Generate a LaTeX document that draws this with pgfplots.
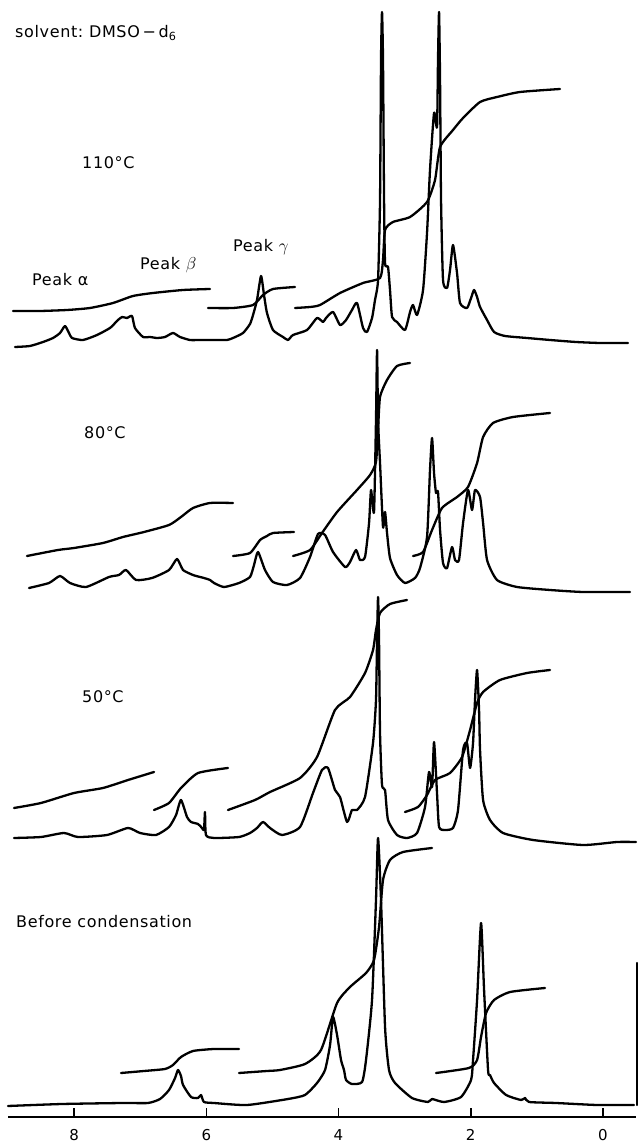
\documentclass[border=0pt]{standalone}
\usepackage{fontspec}
\setmainfont{DejaVu Sans}[LetterSpace=4]
\usepackage{pgfplots}
\pgfplotsset{compat=1.18}
\begin{document}
\begin{tikzpicture}
\begin{axis}[
  name=ax,
  scale only axis, width=628pt, height=1117pt,
  xmin=-0.5, xmax=9.0, x dir=reverse,
  ymin=0, ymax=1117,
  axis x line*=bottom, axis y line=none,
  axis line style={-, line width=2.2pt},
  xtick={0,2,4,6,8}, ytick=\empty,
  tick align=inside, major tick length=9pt,
  xtick style={line width=1.6pt, black},
  xticklabel style={font=\fontsize{15}{15}\selectfont, yshift=-9pt},
  /pgf/number format/assume math mode=true,
  clip=false,
  cycle list={{black, solid, mark=none}},
  every axis plot post/.append style={black, solid, line width=2.3pt, line join=round, line cap=round, mark=none, smooth, tension=0.35},
]
% ---------------- 110 C ----------------
\addplot coordinates {(8.894,770)(8.667,771)(8.470,775)(8.319,779)(8.213,784)(8.138,791)(8.077,784)(8.032,779)(7.865,777)(7.653,782)(7.457,789)(7.366,795)(7.336,797)(7.275,800)(7.200,799)(7.124,801)(7.079,789)(6.957,780)(6.852,780)(6.746,779)(6.625,780)(6.504,784)(6.398,780)(6.247,777)(6.095,777)(5.868,777)(5.687,777)(5.596,779)(5.445,784)(5.339,793)(5.293,802)(5.233,817)(5.172,841)(5.127,822)(5.082,804)(4.991,787)(4.840,780)(4.764,777)(4.688,782)(4.476,787)(4.325,799)(4.234,795)(4.189,799)(4.083,805)(3.977,792)(3.886,797)(3.796,807)(3.720,814)(3.629,789)(3.569,785)(3.493,799)(3.448,817)(3.402,837)(3.372,917)(3.357,1057)(3.342,1105)(3.327,1057)(3.311,917)(3.296,854)(3.251,850)(3.221,827)(3.190,800)(3.115,795)(2.994,787)(2.918,805)(2.873,812)(2.812,802)(2.721,827)(2.661,884)(2.616,947)(2.555,1004)(2.510,990)(2.495,1057)(2.479,1105)(2.464,1037)(2.449,917)(2.419,837)(2.358,829)(2.313,847)(2.268,872)(2.207,844)(2.162,814)(2.056,809)(1.995,819)(1.950,827)(1.904,820)(1.859,810)(1.753,797)(1.647,785)(1.481,781)(1.148,779)(0.800,777)(0.407,775)(0.044,774)(-0.380,774)};
\addplot coordinates {(8.924,806)(8.516,806)(8.107,807)(7.759,809)(7.411,814)(7.109,821)(6.806,824)(6.352,827)(5.944,828)};
\addplot coordinates {(5.974,809)(5.596,809)(5.293,812)(5.142,822)(4.991,828)(4.658,830)};
\addplot coordinates {(4.658,809)(4.431,810)(4.280,812)(3.977,824)(3.629,834)(3.372,839)(3.327,857)(3.296,887)(3.176,895)(2.918,900)(2.661,915)(2.540,937)(2.464,970)(2.268,987)(2.116,999)(1.859,1015)(1.602,1020)(1.254,1025)(0.649,1028)};
% ---------------- 80 C ----------------
\addplot coordinates {(8.682,529)(8.380,534)(8.213,541)(8.062,534)(7.820,530)(7.472,540)(7.321,542)(7.215,547)(7.063,537)(6.821,539)(6.564,547)(6.443,558)(6.352,547)(6.201,542)(6.095,540)(6.035,539)(5.944,537)(5.883,534)(5.732,530)(5.505,534)(5.339,540)(5.278,552)(5.218,565)(5.112,547)(4.991,535)(4.779,532)(4.582,539)(4.431,560)(4.310,583)(4.204,582)(4.083,565)(3.901,550)(3.826,555)(3.735,567)(3.675,557)(3.599,560)(3.538,594)(3.508,627)(3.463,605)(3.433,697)(3.417,767)(3.402,697)(3.372,654)(3.327,590)(3.296,605)(3.266,584)(3.221,559)(3.115,542)(2.994,534)(2.843,539)(2.767,549)(2.661,580)(2.616,647)(2.585,679)(2.555,644)(2.525,624)(2.495,625)(2.464,587)(2.419,554)(2.358,549)(2.283,570)(2.237,557)(2.177,557)(2.116,594)(2.041,627)(1.980,607)(1.935,627)(1.859,620)(1.813,594)(1.753,557)(1.602,537)(1.299,530)(0.800,527)(0.301,525)(-0.410,525)};
\addplot coordinates {(8.713,561)(8.244,567)(8.001,569)(7.563,574)(7.260,580)(6.942,585)(6.564,592)(6.383,600)(6.201,609)(5.944,614)(5.596,614)};
\addplot coordinates {(5.596,561)(5.339,564)(5.187,577)(5.082,581)(4.991,584)(4.673,585)};
\addplot coordinates {(4.688,561)(4.431,567)(4.250,584)(4.022,605)(3.720,627)(3.523,642)(3.433,655)(3.402,687)(3.372,720)(3.266,737)(3.115,751)(2.918,754)};
\addplot coordinates {(2.873,561)(2.721,565)(2.585,587)(2.434,609)(2.207,620)(2.041,630)(1.904,654)(1.813,680)(1.662,694)(1.360,700)(0.800,704)};
% ---------------- 50 C ----------------
\addplot coordinates {(8.909,279)(8.501,280)(8.153,284)(7.941,280)(7.502,282)(7.184,289)(7.003,284)(6.761,282)(6.564,290)(6.458,302)(6.383,317)(6.292,300)(6.231,295)(6.125,293)(6.065,289)(6.035,287)(6.020,305)(6.005,282)(5.883,279)(5.505,280)(5.339,284)(5.233,289)(5.142,295)(5.036,289)(4.855,282)(4.582,290)(4.386,324)(4.250,347)(4.159,349)(4.053,327)(3.977,320)(3.871,295)(3.796,307)(3.720,307)(3.599,320)(3.478,374)(3.433,417)(3.417,477)(3.402,520)(3.387,477)(3.372,384)(3.342,332)(3.296,327)(3.251,297)(3.115,282)(2.964,279)(2.812,284)(2.691,310)(2.631,345)(2.585,330)(2.555,375)(2.510,324)(2.479,290)(2.389,287)(2.268,289)(2.192,307)(2.116,367)(2.056,374)(2.010,349)(1.965,374)(1.935,417)(1.904,447)(1.874,407)(1.859,367)(1.813,317)(1.708,297)(1.511,284)(1.057,277)(0.301,272)(-0.214,275)(-0.501,275)};
\addplot coordinates {(8.909,309)(8.501,314)(8.001,324)(7.563,329)(7.184,337)(6.791,345)};
\addplot coordinates {(6.791,307)(6.564,314)(6.383,329)(6.125,344)(5.672,349)};
\addplot coordinates {(5.672,307)(5.263,317)(5.036,325)(4.582,339)(4.325,360)(4.053,407)(3.826,420)(3.599,444)(3.478,467)(3.433,487)(3.372,504)(3.221,513)(2.964,517)};
\addplot coordinates {(2.994,305)(2.797,310)(2.661,322)(2.540,337)(2.313,344)(2.131,360)(2.010,387)(1.904,414)(1.813,425)(1.557,437)(1.148,444)(0.800,447)};
% ---------------- before condensation ----------------
\addplot coordinates {(9.000,11)(8.183,13)(7.260,14)(6.882,14)(6.700,18)(6.564,27)(6.473,39)(6.428,47)(6.383,41)(6.352,32)(6.231,20)(6.125,19)(6.080,22)(6.035,15)(5.883,14)(5.384,12)(4.764,18)(4.507,22)(4.325,34)(4.204,47)(4.128,72)(4.083,100)(4.022,82)(3.962,57)(3.917,47)(3.886,37)(3.796,33)(3.644,35)(3.584,57)(3.493,117)(3.433,217)(3.402,279)(3.357,217)(3.296,90)(3.236,47)(3.145,34)(2.888,19)(2.646,15)(2.585,18)(2.404,15)(2.147,20)(1.995,37)(1.965,57)(1.904,117)(1.844,194)(1.798,127)(1.738,47)(1.708,42)(1.647,34)(1.465,22)(1.239,17)(1.178,19)(1.118,15)(0.709,14)(0.089,12)(-0.471,12)};
\addplot coordinates {(7.290,44)(6.942,46)(6.625,48)(6.504,52)(6.383,60)(6.201,66)(5.883,68)(5.505,68)};
\addplot coordinates {(5.505,44)(5.082,46)(4.885,47)(4.507,53)(4.265,67)(4.022,114)(3.826,130)(3.584,144)(3.463,157)(3.387,190)(3.327,237)(3.221,257)(3.024,265)(2.585,269)};
\addplot coordinates {(2.525,44)(2.026,49)(1.904,57)(1.844,80)(1.768,104)(1.647,117)(1.405,125)(0.876,129)};
\addplot[line width=0.7pt, dash pattern=on 3pt off 4pt, sharp plot] coordinates {(-0.516,154)(-0.516,12)};
% ---------------- labels ----------------
\node[anchor=west, font=\fontsize{16}{16}\selectfont, inner sep=0pt] at (axis cs:8.894,1084) {solvent:\ DMSO\,−\,d\textsubscript{6}};
\node[anchor=west, font=\fontsize{16}{16}\selectfont, inner sep=0pt] at (axis cs:7.880,954) {110°C};
\node[anchor=west, font=\fontsize{16}{16}\selectfont, inner sep=0pt] at (axis cs:8.637,837) {Peak α};
\node[anchor=west, font=\fontsize{16}{16}\selectfont, inner sep=0pt] at (axis cs:7.003,852) {Peak $\beta$};
\node[anchor=west, font=\fontsize{16}{16}\selectfont, inner sep=0pt] at (axis cs:5.596,870) {Peak $\gamma$};
\node[anchor=west, font=\fontsize{16}{16}\selectfont, inner sep=0pt] at (axis cs:7.850,684) {80°C};
\node[anchor=west, font=\fontsize{16}{16}\selectfont, inner sep=0pt] at (axis cs:7.880,420) {50°C};
\node[anchor=west, font=\fontsize{16}{16}\selectfont, inner sep=0pt] at (axis cs:8.879,195) {Before condensation};
\coordinate (bl) at (rel axis cs:0,0);
\end{axis}
\pgfresetboundingbox
\path[use as bounding box] (bl) ++(-8pt,-27pt) rectangle ++(641pt,1144pt);
\end{tikzpicture}
\end{document}
